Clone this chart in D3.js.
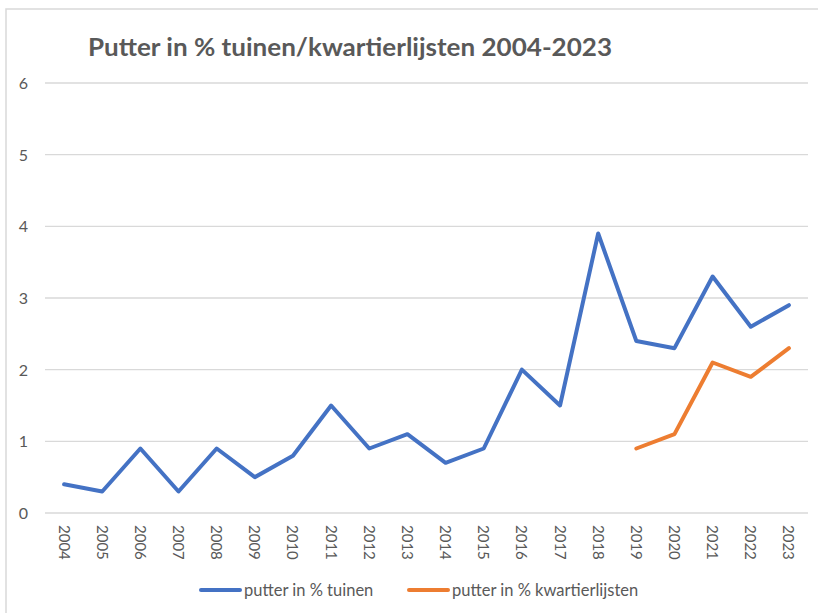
<!DOCTYPE html>
<html lang="nl">
<head>
  <meta charset="utf-8" />
  <title>Putter in % tuinen/kwartierlijsten 2004-2023</title>
  <script src="https://cdn.jsdelivr.net/npm/d3@7"></script>
  <style>
    body { margin: 0; background: #fff; }
  </style>
</head>
<body>
<script>
  // data
  var years = ["2004","2005","2006","2007","2008","2009","2010","2011","2012","2013",
               "2014","2015","2016","2017","2018","2019","2020","2021","2022","2023"];
  var tuinen = [0.4, 0.3, 0.9, 0.3, 0.9, 0.5, 0.8, 1.5, 0.9, 1.1,
                0.7, 0.9, 2.0, 1.5, 3.9, 2.4, 2.3, 3.3, 2.6, 2.9];
  var kwartierYears = ["2019","2020","2021","2022","2023"];
  var kwartier = [0.9, 1.1, 2.1, 1.9, 2.3];
  var yTicks = [0, 1, 2, 3, 4, 5, 6];

  var w = 818, h = 613;
  var plotLeft = 45, plotRight = 808, plotTop = 83, plotBottom = 513;
  var font = "Lato, 'Open Sans', sans-serif";
  var grey = "#595959";

  var svg = d3.select("body").append("svg")
      .attr("width", w)
      .attr("height", h);

  // chart frame (only top and left edges are visible in the crop)
  svg.append("rect")
      .attr("x", 6).attr("y", 9)
      .attr("width", w + 20).attr("height", h + 20)
      .attr("fill", "none")
      .attr("stroke", "#d9d9d9")
      .attr("stroke-width", 1.5);

  var x = d3.scaleBand().domain(years).range([plotLeft, plotRight]);
  var y = d3.scaleLinear().domain([0, 6]).range([plotBottom, plotTop]);

  // gridlines + y labels
  svg.selectAll("line.grid")
      .data(yTicks)
      .enter()
      .append("line")
      .attr("class", "grid")
      .attr("x1", plotLeft).attr("x2", plotRight)
      .attr("y1", function(d) { return y(d); })
      .attr("y2", function(d) { return y(d); })
      .attr("stroke", "#d9d9d9")
      .attr("stroke-width", 1.3);

  svg.selectAll("text.ylab")
      .data(yTicks)
      .enter()
      .append("text")
      .attr("class", "ylab")
      .text(function(d) { return d; })
      .attr("x", 28)
      .attr("y", function(d) { return y(d) + 6; })
      .attr("text-anchor", "end")
      .attr("font-family", font)
      .attr("font-size", "16px")
      .attr("fill", grey);

  // rotated year labels
  svg.selectAll("text.xlab")
      .data(years)
      .enter()
      .append("text")
      .attr("class", "xlab")
      .text(function(d) { return d; })
      .attr("transform", function(d) {
        return "translate(" + (x(d) + x.bandwidth() / 2 - 5.5) + "," + 525 + ") rotate(90)";
      })
      .attr("font-family", font)
      .attr("font-size", "15px")
      .attr("fill", grey);

  var line = d3.line()
      .x(function(d) { return x(d[0]) + x.bandwidth() / 2; })
      .y(function(d) { return y(d[1]); });

  svg.append("path")
      .datum(d3.zip(years, tuinen))
      .attr("d", line)
      .attr("fill", "none")
      .attr("stroke", "#4472c4")
      .attr("stroke-width", 4)
      .attr("stroke-linejoin", "round")
      .attr("stroke-linecap", "round");

  svg.append("path")
      .datum(d3.zip(kwartierYears, kwartier))
      .attr("d", line)
      .attr("fill", "none")
      .attr("stroke", "#ed7d31")
      .attr("stroke-width", 4)
      .attr("stroke-linejoin", "round")
      .attr("stroke-linecap", "round");

  // title
  svg.append("text")
      .text("Putter in % tuinen/kwartierlijsten 2004-2023")
      .attr("x", 88)
      .attr("y", 56)
      .attr("textLength", 524)
      .attr("lengthAdjust", "spacingAndGlyphs")
      .attr("font-family", font)
      .attr("font-weight", "bold")
      .attr("font-size", "25px")
      .attr("fill", grey);

  // legend
  var legend = [
    {name: "putter in % tuinen", color: "#4472c4", x: 201},
    {name: "putter in % kwartierlijsten", color: "#ed7d31", x: 409}
  ];
  var lg = svg.selectAll("g.legend")
      .data(legend)
      .enter()
      .append("g")
      .attr("class", "legend")
      .attr("transform", function(d) { return "translate(" + d.x + ",590)"; });
  lg.append("line")
      .attr("x1", 0).attr("x2", 39)
      .attr("y1", 0).attr("y2", 0)
      .attr("stroke", function(d) { return d.color; })
      .attr("stroke-width", 4)
      .attr("stroke-linecap", "round");
  lg.append("text")
      .text(function(d) { return d.name; })
      .attr("x", 43)
      .attr("y", 6)
      .attr("font-family", font)
      .attr("font-size", "16.5px")
      .attr("fill", grey);
</script>
</body>
</html>
